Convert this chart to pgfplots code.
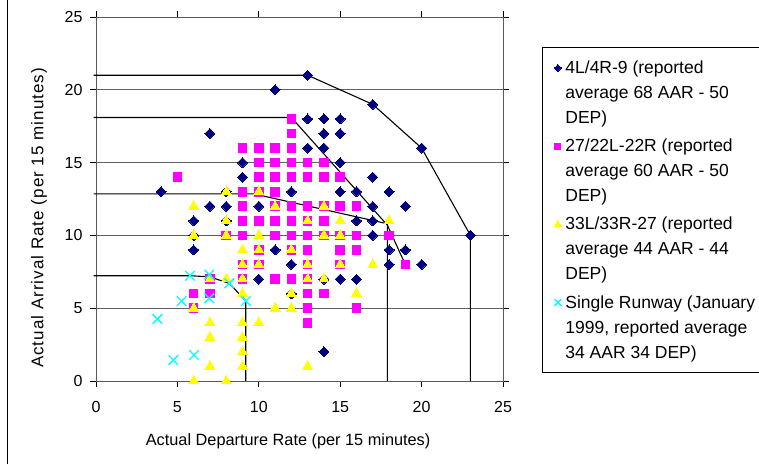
\documentclass[border=0pt]{standalone}
\usepackage{pgfplots}
\pgfplotsset{compat=1.18}
\usepackage{fontspec}
\setmainfont{Liberation Sans}
\definecolor{navyb}{HTML}{000080}
\definecolor{pinkm}{HTML}{FF00FF}
\definecolor{yel}{HTML}{FFFF00}
\definecolor{cyn}{HTML}{00FFFF}
\definecolor{gridc}{HTML}{606060}
\pgfdeclareplotmark{rdiamond}{%
  \pgfpathmoveto{\pgfqpoint{0pt}{\pgfplotmarksize}}%
  \pgfpathlineto{\pgfqpoint{\pgfplotmarksize}{0pt}}%
  \pgfpathlineto{\pgfqpoint{0pt}{-\pgfplotmarksize}}%
  \pgfpathlineto{\pgfqpoint{-\pgfplotmarksize}{0pt}}%
  \pgfpathclose\pgfusepathqfillstroke}
\begin{document}
\begin{tikzpicture}[x=1pt,y=1pt]
\useasboundingbox (0,0) rectangle (759,464);
\draw[black, line width=1pt] (7,0) -- (7,464);
\begin{axis}[
  at={(96pt,83pt)}, anchor=south west,
  scale only axis, width=407pt, height=364pt,
  xmin=0, xmax=25, ymin=0, ymax=25,
  xtick={0,5,...,25}, ytick={0,5,...,25},
  tick align=outside, major tick length=6pt,
  tick style={black, line width=0.8pt},
  ymajorgrids, grid style={gridc, line width=0.8pt},
  axis line style={draw=gray!70!black, line width=0.8pt},
  clip=false,
  /pgf/number format/assume math mode=true,
  tick label style={font=\fontsize{16}{19}\selectfont},
  xticklabel style={yshift=-11pt},
  yticklabel style={xshift=-4pt},
  label style={font=\fontsize{16.3}{19}\selectfont},
  xlabel={Actual Departure Rate (per 15 minutes)},
  ylabel={\addfontfeature{LetterSpace=6}\fontsize{17}{20}\selectfont Actual Arrival Rate (per 15 minutes)},
  xlabel style={at={(axis description cs:0.472,-0.165)}, anchor=center},
  ylabel style={at={(axis description cs:-0.140,0.448)}, anchor=center},
  legend style={at={(axis description cs:1.0958,0.022)}, anchor=south west,
    draw=black, line width=0.8pt, font=\fontsize{17.5}{25}\selectfont,
    row sep=10pt, inner xsep=12pt, inner ysep=11pt,
    nodes={align=left, inner xsep=4pt}},
  legend cell align=left,
  legend image code/.code={\draw[#1] plot coordinates {(0pt,0pt)};},
  legend image post style={yshift=25pt, /tikz/every mark/.append style={scale=0.7}},
]
% 4L/4R-9
\addplot[only marks, mark=rdiamond, mark size=5pt, mark options={fill=navyb, draw=navyb, line width=0pt}] coordinates {
(13,21) (11,20) (17,19)
(13,18) (14,18) (15,18)
(7,17) (14,17) (15,17)
(13,16) (14,16) (20,16)
(9,15) (15,15)
(9,14) (17,14)
(4,13) (8,13) (12,13) (15,13) (16,13) (18,13)
(7,12) (8,12) (10,12) (17,12) (19,12)
(6,11) (8,11) (16,11) (17,11)
(6,10) (17,10) (23,10)
(6,9) (11,9) (18,9) (19,9)
(12,8) (18,8) (20,8)
(10,7) (14,7) (15,7) (16,7)
(12,6)
(14,2)
};
\addlegendentry{4L/4R-9 (reported\\average 68 AAR - 50\\DEP)}
% 27/22L-22R
\addplot[only marks, mark=square*, mark size=4.3pt, mark options={fill=pinkm, draw=pinkm, line width=0pt}] coordinates {
(12,18)
(12,17)
(9,16) (10,16) (11,16) (12,16)
(10,15) (11,15) (12,15) (13,15) (14,15)
(5,14) (10,14) (11,14) (12,14) (13,14) (14,14) (15,14)
(9,13) (10,13) (11,13)
(9,12) (11,12) (12,12) (13,12) (14,12) (15,12) (16,12)
(9,11) (10,11) (11,11) (12,11) (13,11) (14,11)
(8,10) (9,10) (11,10) (12,10) (13,10) (14,10) (15,10) (16,10) (18,10)
(10,9) (12,9) (13,9) (15,9) (16,9)
(9,8) (10,8) (13,8) (15,8) (19,8)
(7,7) (9,7) (11,7) (12,7) (13,7)
(6,6) (7,6) (13,6) (14,6)
(6,5) (13,5) (16,5)
(13,4)
};
\addlegendentry{27/22L-22R (reported\\average 60 AAR - 50\\DEP)}
% 33L/33R-27
\addplot[only marks, mark=triangle*, mark size=5.8pt, mark options={fill=yel, draw=yel, line width=0pt}] coordinates {
(8,13) (10,13)
(6,12) (11,12) (14,12)
(8,11) (13,11) (15,11) (18,11)
(6,10) (8,10) (10,10) (14,10) (15,10)
(9,9) (10,9) (12,9)
(9,8) (10,8) (13,8) (15,8) (17,8)
(7,7) (8,7) (9,7) (13,7) (14,7)
(9,6) (12,6) (16,6)
(6,5) (11,5) (12,5)
(7,4) (9,4) (10,4)
(7,3) (9,3)
(9,2)
(7,1) (9,1) (13,1)
(6,0) (8,0)
};
\addlegendentry{33L/33R-27 (reported\\average 44 AAR - 44\\DEP)}
% Single runway
\addplot[only marks, mark=x, mark size=6.8pt, mark options={draw=cyn, line width=1.3pt}] coordinates {
(5.77,7.23) (6.96,7.3) (8.19,6.71) (9.21,5.49) (5.26,5.49) (6.96,5.68) (3.77,4.26) (4.75,1.44) (6.02,1.79)
};
\addlegendentry{Single Runway (January\\1999, reported average\\34 AAR 34 DEP)}
% envelopes
\addplot[forget plot, black, line width=1.1pt, no marks] coordinates {(-0.15,21) (13,21) (17,19) (20,16) (23,10) (23,0)};
\addplot[forget plot, black, line width=1.1pt, no marks] coordinates {(-0.15,18.1) (12,18.1) (17.9,10.7) (19,8)};
\addplot[forget plot, black, line width=1.1pt, no marks] coordinates {(-0.15,12.85) (9.7,12.85) (17.9,10.8) (17.9,0)};
\addplot[forget plot, black, line width=1.1pt, no marks] coordinates {(-0.15,7.23) (5.8,7.23) (7,7.15) (8.2,6.7) (9.2,5.5) (9.2,0)};
\end{axis}
\end{tikzpicture}
\end{document}
